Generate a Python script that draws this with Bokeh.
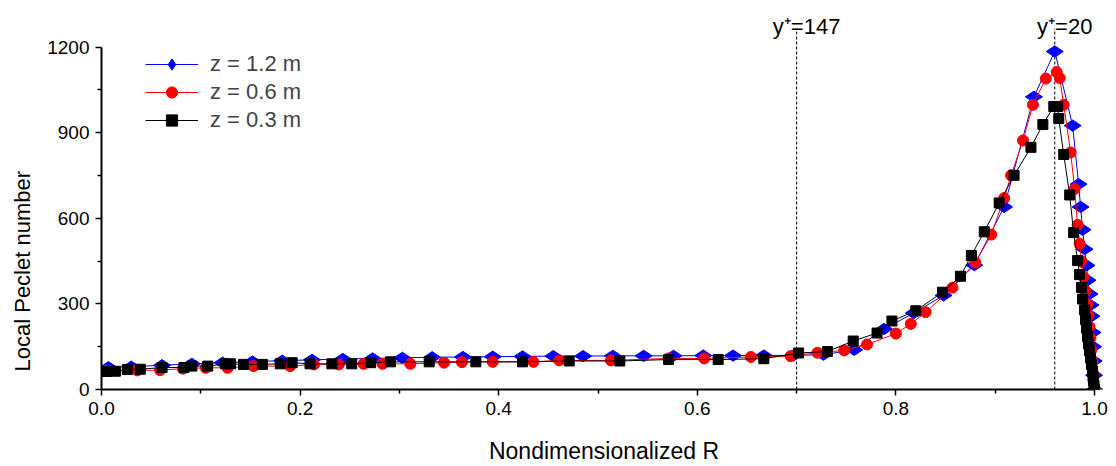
import math
from bokeh.plotting import figure
from bokeh.models import FixedTicker, Legend, LegendItem, Title, Range1d, NumeralTickFormatter, ColumnDataSource
from bokeh.embed import file_html
from bokeh.resources import INLINE
from bokeh.core.properties import value

# ---------------- data ----------------
series_labels = ["z = 1.2 m", "z = 0.6 m", "z = 0.3 m"]

r_z12 = [0.007, 0.030, 0.061, 0.091, 0.122, 0.152, 0.182, 0.212, 0.243, 0.273, 0.303, 0.333,
         0.364, 0.394, 0.424, 0.455, 0.485, 0.515, 0.546, 0.576, 0.606, 0.636, 0.667, 0.697,
         0.727, 0.758, 0.788, 0.818, 0.848, 0.879, 0.909, 0.939, 0.960, 0.978, 0.984, 0.986,
         0.988, 0.990, 0.992, 0.993, 0.995, 0.996, 0.997, 0.998, 0.9986, 0.9992, 0.9996, 1.0]
pe_z12 = [78, 80, 85, 90, 94, 98, 101, 104, 107, 109, 111, 113,
          114, 115, 116, 117, 117, 118, 118, 118, 119, 119, 119, 120,
          122, 139, 212, 268, 330, 436, 640, 1026, 1185, 925, 720, 640,
          560, 492, 435, 383, 335, 296, 257, 200, 150, 100, 50, 0]

r_z06 = [0.004, 0.036, 0.059, 0.082, 0.105, 0.127, 0.153, 0.190, 0.214, 0.239, 0.264, 0.283,
         0.311, 0.345, 0.363, 0.394, 0.435, 0.461, 0.513, 0.571, 0.607, 0.654, 0.694, 0.721,
         0.748, 0.771, 0.800, 0.815, 0.830, 0.857, 0.880, 0.896, 0.909, 0.916, 0.928, 0.938,
         0.951, 0.962, 0.965, 0.969, 0.976, 0.980, 0.983, 0.985, 0.987, 0.989, 0.991, 0.993,
         0.994, 0.995, 0.996, 0.997, 0.998, 0.999, 1.0]
pe_z06 = [65, 67, 68, 73, 76, 76, 82, 82, 88, 88, 90, 90,
          90, 94, 96, 97, 97, 102, 102, 109, 109, 114, 117, 129,
          137, 158, 196, 230, 271, 357, 445, 543, 671, 751, 873, 998,
          1090, 1113, 1092, 998, 831, 703, 577, 511, 450, 395, 345, 300,
          260, 220, 180, 140, 100, 55, 0]

r_z03 = [0.005, 0.014, 0.026, 0.039, 0.061, 0.083, 0.091, 0.107, 0.125, 0.130, 0.143, 0.162,
         0.180, 0.192, 0.210, 0.232, 0.252, 0.271, 0.291, 0.330, 0.377, 0.424, 0.471, 0.522,
         0.571, 0.621, 0.667, 0.702, 0.731, 0.757, 0.781, 0.796, 0.820, 0.847, 0.865, 0.876,
         0.889, 0.904, 0.919, 0.936, 0.948, 0.959, 0.963, 0.964, 0.969, 0.975, 0.979, 0.983,
         0.985, 0.987, 0.988, 0.990, 0.991, 0.992, 0.993, 0.994, 0.995, 0.996, 0.997, 0.998,
         0.9985, 0.999, 0.9995, 1.0]
pe_z03 = [63, 64, 70, 71, 77, 77, 82, 82, 90, 90, 88, 88,
          90, 94, 90, 90, 90, 94, 97, 97, 97, 97, 100, 100,
          105, 105, 108, 128, 133, 170, 198, 240, 276, 341, 397, 470,
          553, 654, 751, 849, 929, 992, 992, 950, 824, 682, 550, 452,
          403, 358, 317, 279, 245, 215, 185, 160, 135, 110, 88, 65,
          45, 30, 15, 0]

yplus_r = [0.70, 0.96]
yplus_text = ["y\u207a=147", "y\u207a=20"]

x_major = [0.0, 0.2, 0.4, 0.6, 0.8, 1.0]
x_minor = [0.1, 0.3, 0.5, 0.7, 0.9]
y_major = [0, 300, 600, 900, 1200]
y_minor = [150, 450, 750, 1050]

x_title = "Nondimensionalized R"
y_title = "Local Peclet number"

# ---------------- figure ----------------
FONT = "Liberation Sans"
p = figure(width=1108, height=466, output_backend="svg", toolbar_location=None,
           x_range=Range1d(0, 1005 / 993), y_range=Range1d(0, 382 / 0.2875),
           min_border_left=101, min_border_right=2, min_border_top=10, min_border_bottom=74)
p.outline_line_color = None
p.grid.visible = False
p.background_fill_color = "white"

for ax in (p.xaxis[0], p.yaxis[0]):
    ax.axis_line_width = 2
    ax.axis_line_color = "black"
    ax.major_tick_line_width = 1.5
    ax.minor_tick_line_width = 1.5
    ax.major_tick_in = 0
    ax.major_tick_out = 6
    ax.minor_tick_in = 0
    ax.minor_tick_out = 4
    ax.major_label_text_font = FONT
    ax.major_label_text_font_size = "19px"
    ax.major_label_text_color = "black"
    ax.major_label_standoff = 6

p.xaxis.bounds = (0, 1)
p.yaxis.bounds = (0, 1200)
p.xaxis.ticker = FixedTicker(ticks=x_major, minor_ticks=x_minor)
p.yaxis.ticker = FixedTicker(ticks=y_major, minor_ticks=y_minor)
p.xaxis.formatter = NumeralTickFormatter(format="0.0")

p.xaxis.axis_label = x_title
p.xaxis.axis_label_text_font = FONT
p.xaxis.axis_label_text_font_size = "23px"
p.xaxis.axis_label_text_font_style = "normal"
p.xaxis.axis_label_text_color = "black"
p.xaxis.axis_label_standoff = 20

p.add_layout(Title(text=y_title, align="left", offset=18, vertical_align="top",
                   text_font=FONT, text_font_size="22px", text_font_style="normal",
                   text_color="black", standoff=16), "left")

# reference dashed lines
p.segment(x0=yplus_r, y0=[0, 0], x1=yplus_r, y1=[1265, 1265],
          line_color="black", line_width=1, line_dash="3 2")
src_t = ColumnDataSource(dict(x=yplus_r, y=[1273, 1273], t=yplus_text))
p.text(x="x", y="y", text="t", source=src_t, text_align="center", text_baseline="alphabetic",
       x_offset=10, text_font=value(FONT), text_font_size="22px", text_color="black")

lb = p.line(r_z12, pe_z12, line_color="#0000FF", line_width=1)
sb = p.scatter(r_z12, pe_z12, marker="diamond", size=17, angle=math.pi / 2,
               fill_color="#0000FF", line_color="#0000FF")
lr = p.line(r_z06, pe_z06, line_color="#FF0000", line_width=1)
sr = p.scatter(r_z06, pe_z06, marker="circle", size=11, fill_color="#FF0000", line_color="#FF0000")
lk = p.line(r_z03, pe_z03, line_color="#000000", line_width=1)
sk = p.scatter(r_z03, pe_z03, marker="square", size=10, fill_color="#000000", line_color="#000000")

legend = Legend(items=[LegendItem(label=series_labels[0], renderers=[lb, sb]),
                       LegendItem(label=series_labels[1], renderers=[lr, sr]),
                       LegendItem(label=series_labels[2], renderers=[lk, sk])],
                location=(44, 255), glyph_width=53, glyph_height=28, label_height=28,
                spacing=0, padding=5, label_standoff=12, border_line_color=None,
                background_fill_alpha=0, label_text_font=FONT, label_text_font_size="22px")
p.add_layout(legend)

open("out.html", "w").write(file_html(p, INLINE))
